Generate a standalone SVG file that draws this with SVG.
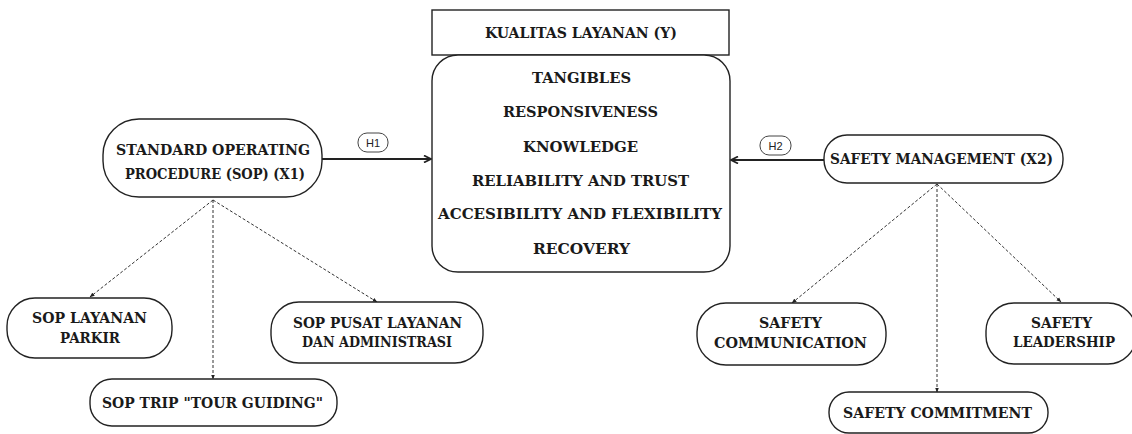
<svg xmlns="http://www.w3.org/2000/svg" width="1132" height="434" viewBox="0 0 1132 434">
  <defs>
    <style>
      .box { fill: #ffffff; stroke: #222222; stroke-width: 1.4; }
      .lbl { font-family: "DejaVu Serif", "Liberation Serif", serif; font-weight: bold; font-size: 14.3px; fill: #1a1a1a; text-anchor: middle; }
      .tag { fill: #ffffff; stroke: #444444; stroke-width: 1; }
      .tagtxt { font-family: "Liberation Sans", Arial, sans-serif; font-size: 11px; fill: #222222; text-anchor: middle; }
      .solid { stroke: #222222; stroke-width: 2.2; fill: none; }
      .dash { stroke: #333333; stroke-width: 1; stroke-dasharray: 3 2; fill: none; }
    </style>
    <marker id="arrowBold" viewBox="0 0 10 10" refX="9" refY="5" markerWidth="4" markerHeight="4" orient="auto" markerUnits="strokeWidth">
      <path d="M1,1 L9,5 L1,9" fill="none" stroke="#222222" stroke-width="2"/>
    </marker>
    <marker id="arrowSmall" viewBox="0 0 10 10" refX="9" refY="5" markerWidth="5" markerHeight="5" orient="auto" markerUnits="strokeWidth">
      <path d="M0,1 L10,5 L0,9 z" fill="#222222"/>
    </marker>
  </defs>

  <!-- connectors -->
  <g id="connectors">
    <line class="solid" x1="322" y1="159" x2="431" y2="159" marker-end="url(#arrowBold)"/>
    <line class="solid" x1="824" y1="160" x2="731" y2="160" marker-end="url(#arrowBold)"/>
    <line class="dash" x1="213" y1="200" x2="90" y2="297" marker-end="url(#arrowSmall)"/>
    <line class="dash" x1="213" y1="200" x2="213" y2="379" marker-end="url(#arrowSmall)"/>
    <line class="dash" x1="213" y1="200" x2="377" y2="302" marker-end="url(#arrowSmall)"/>
    <line class="dash" x1="937" y1="184" x2="792" y2="303" marker-end="url(#arrowSmall)"/>
    <line class="dash" x1="937" y1="184" x2="937" y2="392" marker-end="url(#arrowSmall)"/>
    <line class="dash" x1="937" y1="184" x2="1061" y2="302" marker-end="url(#arrowSmall)"/>
    <g id="label-h1">
      <rect class="tag" x="358" y="133" width="30" height="19" rx="9"/>
      <text class="tagtxt" x="373" y="146.5">H1</text>
    </g>
    <g id="label-h2">
      <rect class="tag" x="760" y="136" width="31" height="19" rx="9"/>
      <text class="tagtxt" x="775.5" y="149.5">H2</text>
    </g>
  </g>

  <!-- dependent variable -->
  <g id="node-y-title">
    <rect class="box" x="432" y="10" width="297" height="45"/>
    <text class="lbl" x="581" y="38" textLength="192" lengthAdjust="spacingAndGlyphs">KUALITAS LAYANAN (Y)</text>
  </g>
  <g id="node-y-dimensions">
    <rect class="box" x="432" y="55" width="298" height="217" rx="26"/>
    <text class="lbl" x="581.5" y="83" textLength="99" lengthAdjust="spacingAndGlyphs">TANGIBLES</text>
    <text class="lbl" x="580.5" y="117" textLength="155" lengthAdjust="spacingAndGlyphs">RESPONSIVENESS</text>
    <text class="lbl" x="580.5" y="152" textLength="115" lengthAdjust="spacingAndGlyphs">KNOWLEDGE</text>
    <text class="lbl" x="580.5" y="186" textLength="217" lengthAdjust="spacingAndGlyphs">RELIABILITY AND TRUST</text>
    <text class="lbl" x="580" y="219" textLength="284" lengthAdjust="spacingAndGlyphs">ACCESIBILITY AND FLEXIBILITY</text>
    <text class="lbl" x="581.5" y="254" textLength="97" lengthAdjust="spacingAndGlyphs">RECOVERY</text>
  </g>

  <!-- X1 and its indicators -->
  <g id="node-sop">
    <rect class="box" x="103" y="119" width="219" height="78" rx="36"/>
    <text class="lbl" x="213" y="155" textLength="194" lengthAdjust="spacingAndGlyphs">STANDARD OPERATING</text>
    <text class="lbl" x="215" y="179" textLength="180" lengthAdjust="spacingAndGlyphs">PROCEDURE (SOP) (X1)</text>
  </g>
  <g id="node-sop-parkir">
    <rect class="box" x="7" y="298" width="165" height="60" rx="28"/>
    <text class="lbl" x="89.5" y="323" textLength="115" lengthAdjust="spacingAndGlyphs">SOP LAYANAN</text>
    <text class="lbl" x="90" y="343" textLength="60" lengthAdjust="spacingAndGlyphs">PARKIR</text>
  </g>
  <g id="node-sop-pusat">
    <rect class="box" x="271" y="302" width="212" height="61" rx="28"/>
    <text class="lbl" x="377.5" y="328" textLength="169" lengthAdjust="spacingAndGlyphs">SOP PUSAT LAYANAN</text>
    <text class="lbl" x="377" y="347" textLength="150" lengthAdjust="spacingAndGlyphs">DAN ADMINISTRASI</text>
  </g>
  <g id="node-sop-trip">
    <rect class="box" x="90" y="379" width="247" height="47" rx="22"/>
    <text class="lbl" x="212.5" y="408" textLength="221" lengthAdjust="spacingAndGlyphs">SOP TRIP "TOUR GUIDING"</text>
  </g>

  <!-- X2 and its indicators -->
  <g id="node-safety">
    <rect class="box" x="824" y="135" width="239" height="48" rx="23"/>
    <text class="lbl" x="941.5" y="164" textLength="223" lengthAdjust="spacingAndGlyphs">SAFETY MANAGEMENT (X2)</text>
  </g>
  <g id="node-safety-communication">
    <rect class="box" x="697" y="303" width="189" height="62" rx="29"/>
    <text class="lbl" x="790.5" y="328" textLength="63" lengthAdjust="spacingAndGlyphs">SAFETY</text>
    <text class="lbl" x="790.5" y="348" textLength="153" lengthAdjust="spacingAndGlyphs">COMMUNICATION</text>
  </g>
  <g id="node-safety-leadership">
    <rect class="box" x="986" y="303" width="150" height="61" rx="28"/>
    <text class="lbl" x="1061.5" y="328" textLength="61" lengthAdjust="spacingAndGlyphs">SAFETY</text>
    <text class="lbl" x="1064" y="347" textLength="102" lengthAdjust="spacingAndGlyphs">LEADERSHIP</text>
  </g>
  <g id="node-safety-commitment">
    <rect class="box" x="829" y="392" width="219" height="41" rx="20"/>
    <text class="lbl" x="937.5" y="418" textLength="189" lengthAdjust="spacingAndGlyphs">SAFETY COMMITMENT</text>
  </g>
</svg>
